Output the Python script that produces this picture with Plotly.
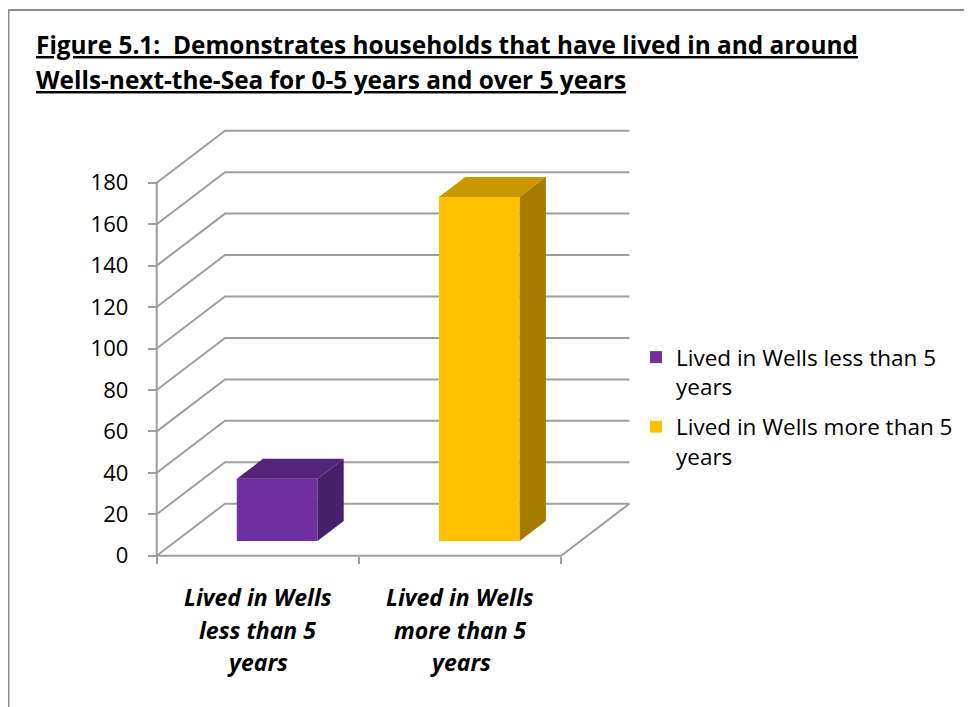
import plotly.graph_objects as go

# ---------------- data ----------------
categories = ["Lived in Wells less than 5 years", "Lived in Wells more than 5 years"]
category_label_lines = [["Lived in Wells", "less than 5", "years"],
                        ["Lived in Wells", "more than 5", "years"]]
legend_names = ["Lived in Wells less than 5<br>years", "Lived in Wells more than 5<br>years"]
values = [30, 166]
y_ticks = [0, 20, 40, 60, 80, 100, 120, 140, 160, 180]
title_lines = ["Figure 5.1:\u00a0 Demonstrates households that have lived in and around",
               "Wells-next-the-Sea for 0-5 years and over 5 years"]

# ---------------- style ----------------
FONT = "Open Sans"
GRID = "#9E9E9E"
front_colors = ["#7030A0", "#FFC000"]
top_colors = ["#53237A", "#C99700"]
side_colors = ["#47206A", "#A67C00"]

OFF = 8                        # page body margin of the html page
W, H = 972 - OFF, 707 - OFF    # figure size so the page does not overflow
OX, OY = 156.7 - OFF, 555.7 - OFF   # figure pixel position of origin
PXU, PYU = 202.2, 2.072        # pixels per x unit / per y unit
DX, DY = 68.3 / PXU, 52.0 / PYU  # depth offset of back wall, in data units
BAR_FRONT, BAR_BACK = 0.283, 0.667
BAR_WIDTH = 0.399
L, R, T, B = 146 - OFF, 642 - OFF, 118 - OFF, 568 - OFF  # plot area in pixels

n = len(categories)
xr = [(L - OX) / PXU, (R - OX) / PXU]
yr = [(OY - B) / PYU, (OY - T) / PYU]

def px_to_paper_x(p):
    return (p - L) / (R - L)

def px_to_paper_y(p):
    return (B - p) / (B - T)

fig = go.Figure()

# walls / grid as shapes below traces
shapes = []
ymax = max(y_ticks)
for t in y_ticks:
    shapes.append(dict(type="path", layer="below", xref="x", yref="y",
                       path=f"M0,{t} L{DX},{t + DY} L{n + DX},{t + DY}",
                       line=dict(color=GRID, width=2)))
shapes.append(dict(type="path", layer="below", xref="x", yref="y",
                   path=f"M0,{ymax} L0,0 L{n},0 L{n + DX},{DY}",
                   line=dict(color=GRID, width=2)))
# outer chart border
shapes.append(dict(type="rect", xref="paper", yref="paper",
                   x0=px_to_paper_x(0.5), x1=px_to_paper_x(W + 20),
                   y0=px_to_paper_y(H + 20), y1=px_to_paper_y(10 - OFF),
                   line=dict(color="#8C8C8C", width=2), fillcolor="rgba(0,0,0,0)"))

fb_x, fb_y = BAR_FRONT * DX, BAR_FRONT * DY
dd_x, dd_y = (BAR_BACK - BAR_FRONT) * DX, (BAR_BACK - BAR_FRONT) * DY

for i, v in enumerate(values):
    cx = i + 0.5 + fb_x
    fig.add_trace(go.Bar(x=[cx], y=[v], base=[fb_y], width=[BAR_WIDTH],
                         marker=dict(color=front_colors[i], line=dict(width=0)),
                         name=legend_names[i], legendgroup=f"g{i}", hoverinfo="skip"))
for i, v in enumerate(values):
    cx = i + 0.5 + fb_x
    xl, xrr = cx - BAR_WIDTH / 2, cx + BAR_WIDTH / 2
    top = fb_y + v
    fig.add_trace(go.Scatter(
        x=[xl, xrr, xrr + dd_x, xl + dd_x, xl],
        y=[top, top, top + dd_y, top + dd_y, top],
        fill="toself", fillcolor=top_colors[i], mode="lines",
        line=dict(width=0, color=top_colors[i]), showlegend=False, hoverinfo="skip"))
    fig.add_trace(go.Scatter(
        x=[xrr, xrr + dd_x, xrr + dd_x, xrr, xrr],
        y=[fb_y, fb_y + dd_y, top + dd_y, top, fb_y],
        fill="toself", fillcolor=side_colors[i], mode="lines",
        line=dict(width=0, color=side_colors[i]), showlegend=False, hoverinfo="skip"))

annotations = []
for j, line in enumerate(title_lines):
    annotations.append(dict(xref="paper", yref="paper",
                            x=px_to_paper_x(34 - OFF), y=px_to_paper_y([45 - OFF, 79 - OFF][j]),
                            xanchor="left", yanchor="middle", showarrow=False,
                            text=f"<b><u>{line}</u></b>",
                            font=dict(family=FONT, size=24.4, color="black")))
for i, lines in enumerate(category_label_lines):
    for j, line in enumerate(lines):
        annotations.append(dict(xref="x", yref="paper",
                                x=i + 0.5, y=px_to_paper_y(OY + 41.5 + 32.5 * j),
                                xanchor="center", yanchor="middle", showarrow=False,
                                text=f"<b><i>{line}</i></b>",
                                font=dict(family=FONT, size=23, color="black")))

fig.update_layout(
    width=W, height=H,
    margin=dict(l=L, r=W - R, t=T, b=H - B, pad=0, autoexpand=False),
    paper_bgcolor="white", plot_bgcolor="white",
    barmode="overlay",
    shapes=shapes, annotations=annotations,
    xaxis=dict(range=xr, anchor="free", position=px_to_paper_y(OY),
               tickvals=list(range(n + 1)), showticklabels=False,
               ticks="outside", ticklen=7, tickwidth=2, tickcolor=GRID,
               automargin=False,
               showgrid=False, zeroline=False, showline=False, fixedrange=True),
    yaxis=dict(range=yr, anchor="free", position=px_to_paper_x(OX),
               tickvals=y_ticks, ticktext=[str(t) for t in y_ticks],
               ticks="outside", ticklen=9, tickwidth=2, tickcolor=GRID,
               ticklabelstandoff=15, automargin=False,
               tickfont=dict(family=FONT, size=22, color="black"),
               showgrid=False, zeroline=False, showline=False, fixedrange=True),
    legend=dict(xref="container", yref="container",
                x=(636 - OFF) / W, y=1 - (336 - OFF) / H, xanchor="left", yanchor="top",
                valign="top", bgcolor="rgba(0,0,0,0)",
                font=dict(family=FONT, size=22.5, color="black"),
                tracegroupgap=8),
    showlegend=True,
)

fig.write_html("out.html")
